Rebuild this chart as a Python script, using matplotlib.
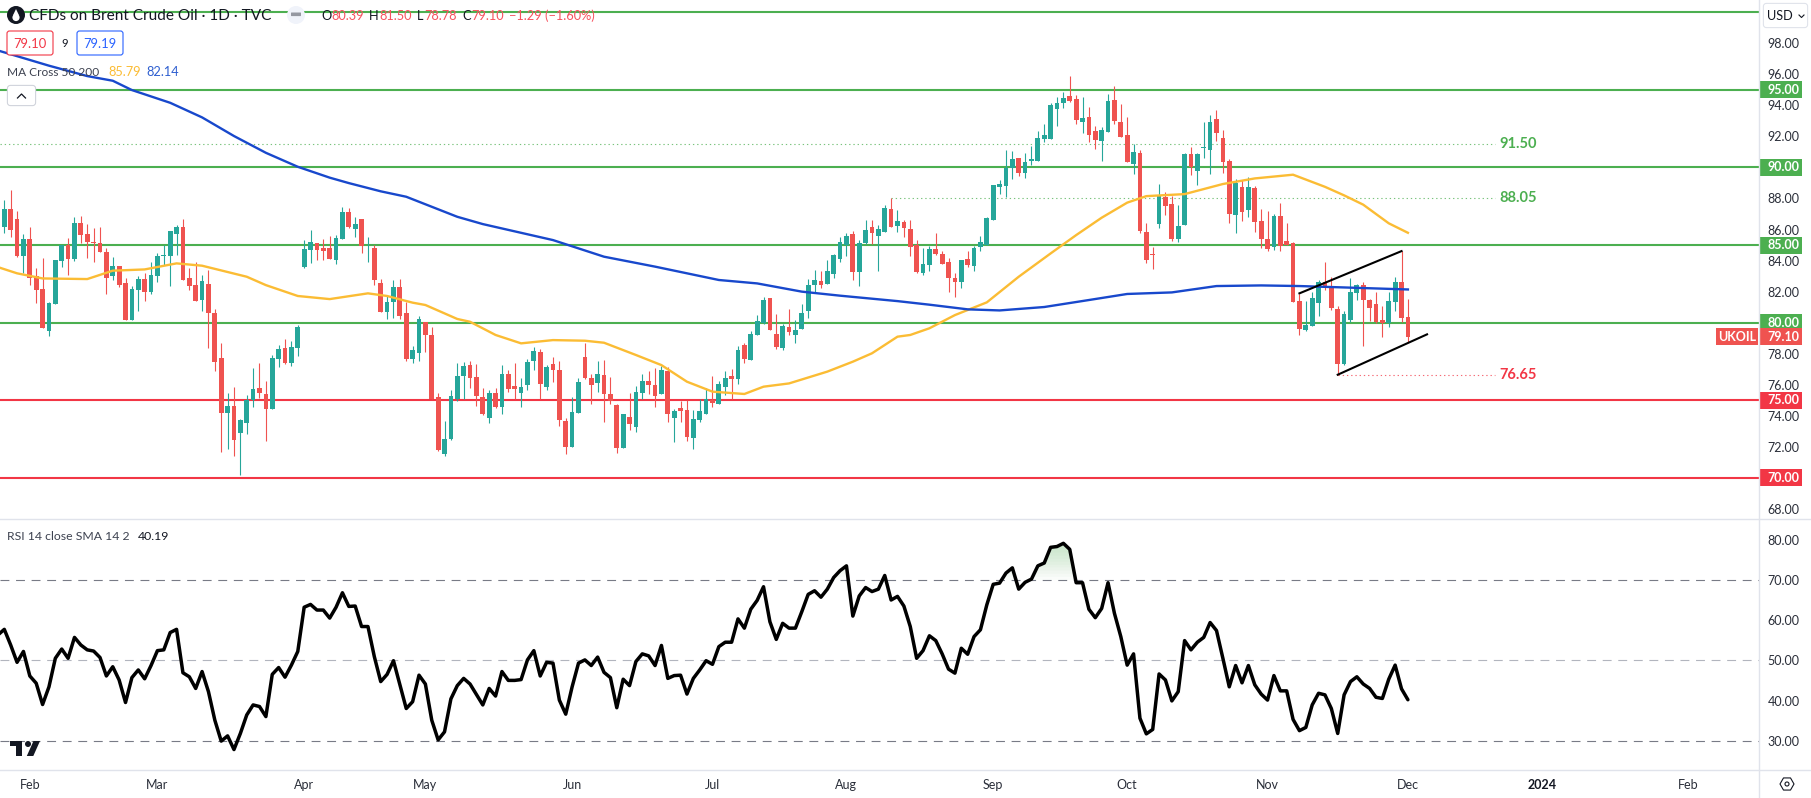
import numpy as np
import matplotlib
matplotlib.use("Agg")
import matplotlib.pyplot as plt
from matplotlib.patches import Rectangle, FancyBboxPatch, Circle, Polygon, RegularPolygon
from matplotlib.lines import Line2D
from matplotlib.transforms import blended_transform_factory as blend, Affine2D

plt.rcParams['font.family'] = ['Lato', 'DejaVu Sans']

opens = [86.18,87.32,86.67,84.29,85.39,83.00,82.17,79.46,81.20,83.97,
85.00,84.10,86.42,85.71,85.19,85.13,84.55,83.00,83.65,82.55,
80.17,82.10,82.81,81.97,83.00,84.31,84.29,85.71,86.16,82.88,
82.42,81.46,82.49,80.62,77.73,74.18,74.63,72.90,73.54,75.02,
75.79,75.41,74.44,77.66,78.37,77.40,78.37,83.58,84.68,85.13,
84.81,84.81,84.03,85.39,87.12,86.03,86.67,84.98,84.81,82.55,
80.69,81.33,82.30,80.62,77.66,78.05,80.04,79.21,75.21,71.54,
72.51,75.09,76.57,77.27,76.50,75.21,73.86,75.47,74.57,76.70,
75.92,75.47,75.99,77.53,78.11,75.86,77.34,76.95,73.67,72.00,
74.18,77.79,76.44,76.12,76.63,75.41,74.70,71.93,73.93,73.28,
75.47,76.24,75.99,75.41,76.89,73.86,74.51,74.38,72.57,73.73,
74.12,75.02,74.76,75.86,76.57,76.37,78.56,77.60,79.21,79.98,
81.59,79.27,78.37,79.72,79.21,79.59,80.75,82.42,82.68,82.49,
83.13,84.10,85.00,85.71,83.26,85.13,86.16,85.58,85.84,87.32,
86.22,86.48,86.03,85.00,83.20,83.71,84.74,84.42,83.91,82.88,
82.62,84.10,83.65,84.87,85.00,86.61,88.73,88.80,89.96,90.60,
89.64,90.41,90.41,91.82,91.82,93.76,94.14,94.59,94.40,92.92,
93.24,92.34,91.70,92.28,94.34,92.92,92.08,90.21,90.92,85.84,
84.40,86.35,88.09,87.64,85.39,86.29,90.86,89.76,91.25,91.12,
93.11,91.89,90.41,86.93,88.73,87.25,88.67,86.55,85.39,84.87,
86.87,85.26,85.13,81.39,79.53,79.79,81.27,82.62,82.36,80.88,
77.34,80.17,81.93,82.42,81.46,81.20,80.17,79.96,81.35,82.62,80.39]

closes = [87.32,85.97,84.29,85.39,82.88,82.10,79.66,81.27,84.03,85.00,
84.10,86.42,85.64,85.19,85.13,84.55,82.88,83.65,82.42,80.17,
82.17,82.81,81.97,83.07,84.29,84.36,85.90,86.16,82.75,82.36,
81.39,82.68,80.62,77.47,74.18,74.63,72.45,73.73,75.02,75.73,
75.47,74.44,77.73,78.30,77.40,78.43,79.72,84.74,85.19,84.68,
84.61,84.10,85.45,87.12,86.16,86.35,84.94,85.02,82.75,80.69,
81.33,82.30,80.43,77.66,78.24,80.24,79.21,75.09,71.80,72.51,
75.28,76.57,77.21,76.44,75.28,74.12,75.47,74.57,76.70,75.73,
75.73,75.86,77.47,78.18,76.05,77.15,76.95,73.73,72.00,74.25,
76.18,76.44,75.99,76.70,75.41,74.96,71.93,74.12,73.48,75.54,
76.24,75.99,75.28,76.95,74.12,74.31,74.31,72.64,73.80,74.31,
75.09,74.83,76.05,76.44,76.37,78.24,77.66,79.27,80.11,81.46,
79.53,78.43,79.79,79.40,79.53,80.62,82.42,82.75,82.42,83.33,
84.36,85.19,85.58,83.26,85.13,85.97,85.77,86.03,87.38,86.16,
86.54,86.09,84.87,83.26,83.78,84.74,84.42,83.78,82.88,82.62,
84.03,83.71,84.81,85.19,86.74,88.86,88.93,89.96,90.54,89.64,
90.34,90.54,91.89,92.08,94.01,94.14,94.46,94.27,93.05,93.18,
92.08,91.76,92.40,94.27,92.98,91.95,90.34,90.99,85.90,84.03,
84.33,88.15,87.51,85.39,86.22,90.86,90.02,90.86,91.31,92.92,
92.21,90.34,87.00,88.99,87.12,88.73,86.48,85.39,84.74,86.87,
84.94,85.00,81.33,79.59,79.85,81.59,82.62,82.30,80.94,77.34,
80.56,81.97,82.42,81.46,80.94,80.06,79.96,81.39,82.62,80.28,79.10]

highs = [87.90,88.54,87.19,85.71,86.16,83.52,84.16,81.33,84.03,85.00,
85.45,86.80,86.87,86.35,86.09,86.16,84.81,84.23,83.65,82.88,
82.36,83.00,83.20,83.91,84.49,85.00,85.90,86.29,86.67,83.52,
83.91,83.07,83.39,80.88,78.69,75.47,75.86,73.80,75.34,77.08,
77.40,76.24,77.92,78.56,78.95,78.82,79.85,85.32,85.97,85.13,
85.39,85.58,85.64,87.45,87.38,86.80,86.67,85.52,85.00,82.81,
81.72,82.75,82.81,81.33,78.50,80.43,80.04,79.72,75.47,73.67,
75.67,77.40,77.47,77.53,77.34,75.79,75.67,75.79,77.27,76.95,
77.40,76.44,77.66,78.43,78.30,77.27,77.79,77.53,73.86,75.21,
76.44,78.69,76.70,77.53,77.60,76.50,74.76,74.12,75.47,75.92,
76.70,76.89,77.08,77.21,77.15,74.44,74.96,75.02,74.38,75.09,
75.79,76.57,76.24,76.89,77.02,78.50,78.69,79.46,80.49,81.65,
81.59,80.56,79.91,80.88,80.17,81.20,82.81,83.39,83.33,84.03,
84.42,85.52,85.77,85.90,85.32,86.61,86.61,86.29,87.58,88.03,
87.25,86.61,86.61,85.32,84.81,84.94,85.77,84.61,84.16,83.20,
84.03,84.61,84.94,85.58,86.80,88.86,89.18,91.12,91.05,90.60,
90.92,91.37,92.34,92.79,94.14,94.53,94.85,95.88,94.66,94.53,
93.88,92.66,92.60,94.72,95.24,94.08,93.24,91.50,91.12,86.42,
84.87,88.93,88.41,88.15,87.58,90.92,91.31,90.92,92.92,93.37,
93.69,92.40,90.54,89.25,89.18,89.38,88.80,87.32,87.19,87.00,
87.70,86.42,85.19,81.85,81.39,81.97,82.75,83.91,82.94,81.07,
80.75,82.88,82.49,82.62,81.52,81.97,81.07,81.97,82.94,84.61,81.50]

lows = [85.79,85.54,84.20,83.18,82.42,81.24,79.66,79.14,81.20,83.61,
83.07,83.97,85.13,84.16,83.91,84.55,81.85,82.75,82.32,80.17,
80.17,80.75,81.39,81.85,82.62,83.71,82.36,84.36,82.75,82.10,
81.39,80.75,78.37,76.89,71.67,71.87,71.42,70.19,72.83,74.57,
75.15,72.38,74.44,77.15,77.34,77.21,77.85,83.52,83.84,84.03,
84.03,84.10,83.78,85.39,86.09,85.52,84.49,83.91,82.42,80.69,
80.24,80.30,80.24,77.53,77.40,77.53,78.11,75.09,71.74,71.42,
72.45,74.96,75.09,75.79,74.63,74.06,73.54,74.51,74.12,75.54,
75.09,74.57,75.67,76.95,75.09,75.67,76.18,73.35,71.54,72.00,
74.18,76.37,74.76,75.54,73.60,74.76,71.61,71.93,73.09,72.96,
75.09,75.41,74.57,75.41,73.60,72.32,73.60,72.38,71.87,73.60,
74.12,74.57,74.76,75.34,75.09,76.05,77.40,77.60,79.21,79.91,
79.53,78.30,78.24,79.21,78.69,79.59,80.30,81.97,82.23,82.49,
82.88,83.91,84.29,82.75,82.36,85.06,85.06,83.33,85.84,86.16,
85.84,85.52,84.29,83.20,83.07,83.33,84.36,83.78,81.97,81.65,
82.23,83.58,83.33,84.61,85.00,86.61,88.28,88.09,89.25,89.44,
89.31,90.15,90.41,91.63,91.82,92.66,93.82,94.21,92.79,92.21,
91.63,91.18,90.41,92.28,92.79,91.95,90.34,89.57,85.77,83.84,
83.46,86.09,86.93,85.26,85.19,86.29,89.51,88.86,90.60,89.57,
91.70,89.64,86.42,85.77,86.55,86.80,85.84,84.81,84.61,84.68,
84.61,85.00,81.33,79.21,79.46,79.79,80.43,82.10,80.82,76.65,
77.27,80.04,81.46,78.50,80.11,80.00,79.08,79.72,80.75,80.04,78.78]

ma200_bar = [-1,7,13,17,20,26,31,36,41,46,51,54,59,63,71,75,86,94,102,112,118,125,131,140,145,151,156,163,170,176,183,190,197,203,210,220]
ma200_val = [97.53,96.55,95.88,95.58,94.98,94.16,93.22,92.02,90.94,90.04,89.34,88.99,88.46,88.11,86.82,86.35,85.32,84.25,83.61,82.75,82.53,82.00,81.74,81.39,81.16,80.86,80.79,81.01,81.46,81.85,81.95,82.36,82.40,82.36,82.27,82.14]

ma50_bar = [-1,2,6,13,17,22,27,31,38,41,46,51,57,60,64,66,71,73,77,81,86,91,94,99,103,107,111,116,119,123,129,133,136,140,142,145,149,154,159,164,168,172,176,179,185,191,196,202,207,210,213,217,220]
ma50_val = [83.58,83.18,82.85,82.81,83.35,83.43,83.82,83.67,82.96,82.42,81.72,81.52,81.89,81.72,81.29,81.14,80.24,80.06,79.21,78.67,78.88,78.84,78.71,77.92,77.27,76.20,75.56,75.41,75.88,76.09,76.85,77.49,78.03,79.10,79.21,79.64,80.49,81.31,82.96,84.46,85.64,86.76,87.73,88.15,88.28,88.93,89.29,89.53,88.75,88.20,87.60,86.40,85.79]

rsi = [56.3,57.7,53.8,49.5,52.2,46.1,44.3,39.0,43.4,50.5,52.8,50.5,55.7,53.8,52.6,52.3,50.7,46.1,48.4,45.1,39.5,
45.7,47.6,45.4,48.7,52.4,52.6,56.9,57.7,46.9,45.9,43.0,47.2,42.2,35.1,29.9,31.2,27.8,31.8,36.4,38.9,
38.5,36.0,46.5,48.2,45.8,48.8,52.2,63.2,63.9,62.5,62.5,60.5,63.2,66.8,63.4,63.5,58.4,58.4,50.9,44.7,
46.5,49.9,43.9,38.0,39.7,46.3,44.1,35.1,30.2,32.2,40.4,43.7,45.5,44.1,41.5,38.9,43.0,41.1,47.2,45.0,
45.0,45.2,50.1,52.4,46.1,49.5,49.3,40.1,36.6,43.4,49.3,50.1,48.7,50.8,47.0,45.7,38.2,45.3,43.7,49.7,
51.6,51.1,48.7,53.7,45.5,46.2,46.3,41.6,45.5,47.6,49.9,49.0,53.4,54.5,54.5,60.3,58.0,62.7,64.9,68.3,
59.6,55.2,59.2,58.0,58.0,62.1,66.4,67.3,65.7,67.7,70.6,72.3,73.5,61.0,66.0,68.1,67.1,67.7,71.1,65.0,
65.9,63.5,58.4,50.5,52.4,56.1,54.9,51.6,47.8,46.8,53.0,51.5,55.9,57.6,63.8,68.9,69.2,71.7,73.0,67.7,
69.4,70.2,73.5,74.2,78.1,78.3,79.1,77.6,69.3,69.3,62.7,60.6,62.9,69.3,61.7,55.9,48.8,51.6,35.6,31.7,
32.8,46.6,45.1,39.9,42.2,54.9,52.6,54.5,55.7,59.4,57.4,50.5,43.4,48.7,44.4,48.7,43.9,41.6,40.1,46.2,
42.4,42.4,35.3,32.5,33.3,38.9,41.8,41.4,38.0,31.8,41.4,44.7,45.9,44.1,43.0,40.8,40.5,45.3,48.8,42.9,40.19]

green_levels = [100, 95, 90, 85, 80]
red_levels = [75, 70]
price_ticks = [98, 96, 94, 92, 88, 86, 84, 82, 78, 76, 74, 72, 68]
rsi_ticks = [30, 40, 50, 60, 70, 80]
month_bars = [4, 24, 47, 66, 89, 111, 132, 155, 176, 198, 220, 241, 264]
month_labels = ['Feb', 'Mar', 'Apr', 'May', 'Jun', 'Jul', 'Aug', 'Sep', 'Oct', 'Nov', 'Dec', '2024', 'Feb']
upper_trend_bar, upper_trend_val = [203, 219], [81.89, 84.61]
lower_trend_bar, lower_trend_val = [209, 223], [76.65, 79.25]

W, H = 1811, 798
AXR = 1759
GREEN = '#4caf50'; RED = '#f23645'; UP = '#26a69a'; DOWN = '#ef5350'
TXT = '#131722'; YEL = '#fbbc34'; BLUE = '#1848cc'; GRID = '#e0e3eb'
FS = 9.0

fig = plt.figure(figsize=(W/100, H/100), dpi=100, facecolor='white')

def fx(x): return x / W
def fy(y): return 1 - y / H

ax = fig.add_axes([0, fy(518.5), AXR/W, 518.5/H])
ar = fig.add_axes([0, fy(770), AXR/W, (770-518.5)/H])

XMIN = (0 - 4.3) / 6.38
XMAX = (AXR - 4.3) / 6.38
for a in (ax, ar):
    a.set_xlim(XMIN, XMAX)
    for s in a.spines.values():
        s.set_visible(False)
    a.yaxis.tick_right()
    a.tick_params(axis='y', length=0, pad=6.2, labelsize=FS, labelcolor='#2a2e39')
ax.set_ylim(80 - (518.5 - 322.7) / 15.53, 80 + 322.7 / 15.53)
ar.set_ylim(50 - (770 - 660.3) / 4.02, 50 + (660.3 - 518.5) / 4.02)

# candles
idx = np.arange(len(opens))
o, h, l, c = map(np.array, (opens, highs, lows, closes))
cols = np.where(c >= o, UP, DOWN)
ax.vlines(idx, l, h, colors=cols, lw=0.8, zorder=3)
ax.bar(idx, np.abs(c - o), bottom=np.minimum(o, c), width=0.74, color=cols, lw=0, zorder=3)

# levels
for v in green_levels:
    ax.axhline(v, color=GREEN, lw=1.5, zorder=2)
for v in red_levels:
    ax.axhline(v, color=RED, lw=1.5, zorder=2)

# moving averages
ax.plot(ma50_bar, ma50_val, color=YEL, lw=1.7, zorder=4, solid_joinstyle='round')
ax.plot(ma200_bar, ma200_val, color=BLUE, lw=1.7, zorder=4, solid_joinstyle='round')

# trendlines
ax.plot(upper_trend_bar, upper_trend_val, color='black', lw=1.5, zorder=5)
ax.plot(lower_trend_bar, lower_trend_val, color='black', lw=1.5, zorder=5)

# dotted levels
LBL = (1499.6 - 4.3) / 6.38
LEND = (1495 - 4.3) / 6.38
ds = (0, (1.2, 2.6))
ax.plot([XMIN, LEND], [91.5, 91.5], color=GREEN, lw=0.8, ls=ds, alpha=.75, zorder=2)
ax.plot([139, LEND], [88.05, 88.05], color=GREEN, lw=0.8, ls=ds, alpha=.75, zorder=2)
ax.plot([209, LEND], [76.65, 76.65], color=RED, lw=0.8, ls=ds, alpha=.75, zorder=2)
for v, col in ((91.5, GREEN), (88.05, GREEN), (76.65, RED)):
    ax.text(LBL, v, f'{v:.2f}', color=col, fontsize=10.5, fontweight='bold', va='center', ha='left')

# price axis
ax.set_xticks([])
ax.set_yticks(price_ticks)
ax.set_yticklabels([f'{v:.2f}' for v in price_ticks])

def scale_box(a, v, fc, label, hpx=17):
    ylo, yhi = a.get_ylim()
    axh = a.get_position().height * H
    dh = hpx * (yhi - ylo) / axh
    tr = blend(a.transAxes, a.transData)
    a.add_patch(Rectangle((1.0, v - dh/2), 43/AXR, dh, transform=tr, fc=fc, ec='none', clip_on=False, zorder=6))
    a.text(1767/AXR, v, label, transform=tr, color='white', fontsize=FS, fontweight='bold',
           va='center', ha='left', clip_on=False, zorder=7)

for v in (95, 90, 85, 80):
    scale_box(ax, v, GREEN, f'{v:.2f}')
for v in (75, 70):
    scale_box(ax, v, RED, f'{v:.2f}')
scale_box(ax, 79.10, DOWN, '79.10')
tr = blend(ax.transAxes, ax.transData)
dh = 17 / 15.53
ax.add_patch(Rectangle((1716/AXR, 79.10 - dh/2), 42/AXR, dh, transform=tr, fc=DOWN, ec='none', clip_on=False, zorder=6))
ax.text(1737/AXR, 79.10, 'UKOIL', transform=tr, color='white', fontsize=FS, fontweight='bold',
        va='center', ha='center', zorder=7)

# RSI
rx = np.arange(-1, len(rsi) - 1)
ra = np.array(rsi)
for v, col in ((70, '#787b86'), (50, '#b2b5be'), (30, '#787b86')):
    ar.axhline(v, color=col, lw=0.8, ls=(0, (8, 6)), zorder=1)
for lev in np.linspace(70, 78.5, 12):
    ar.fill_between(rx, lev, ra, where=ra > lev, interpolate=True, color=GREEN, alpha=0.028, lw=0, zorder=1)
ar.plot(rx, ra, color='black', lw=2.5, zorder=3, solid_joinstyle='round', solid_capstyle='round')
ar.set_yticks(rsi_ticks)
ar.set_yticklabels([f'{v:.2f}' for v in rsi_ticks])
ar.set_xticks(month_bars)
ar.set_xticklabels(month_labels, fontsize=FS, color='#2a2e39')
ar.tick_params(axis='x', length=0, pad=6.5)
for t, m in zip(ar.get_xticklabels(), month_labels):
    if m == '2024':
        t.set_color(TXT); t.set_fontweight('bold')

# frame lines
for (x0, y0), (x1, y1) in (((AXR, 0), (AXR, H)), ((0, 518.5), (W, 518.5)), ((0, 770), (W, 770))):
    fig.add_artist(Line2D([fx(x0), fx(x1)], [fy(y0), fy(y1)], color=GRID, lw=1.0, transform=fig.transFigure, zorder=5))

def ftext(x, y, s, color=TXT, size=FS, **kw):
    return fig.text(fx(x), fy(y), s, color=color, fontsize=size, va='center', ha=kw.pop('ha', 'left'), zorder=8, **kw)

px = Affine2D().scale(1, -1).translate(0, H)  # pixel coordinates, y downward

def add(p):
    p.set_transform(px)
    fig.add_artist(p)
    p.set_zorder(7)
    return p

# header
add(Circle((16, 15), 9, fc='#131722', ec='none'))
add(Circle((16, 17.5), 3.6, fc='white', ec='none'))
add(Polygon([(16, 9), (12.9, 15.5), (19.1, 15.5)], closed=True, fc='white', ec='none'))
ftext(29, 15.5, 'CFDs on Brent Crude Oil · 1D · TVC', size=11.1)
add(Circle((296, 15), 9, fc='#f0f3fa', ec='none'))
add(FancyBboxPatch((291.5, 13), 9, 2.6, boxstyle='round,pad=0.5', fc='#9598a1', ec='none'))
VALRED = '#f7525f'
for xp, lab, xv, val in ((321, 'O', 331, '80.39'), (369, 'H', 379, '81.50'), (417, 'L', 424, '78.78'), (462, 'C', 471, '79.10')):
    ftext(xp, 15.5, lab, size=9.2)
    ftext(xv, 15.5, val, color=VALRED, size=9.2)
ftext(509, 15.5, '−1.29 (−1.60%)', color=VALRED, size=9.2)

add(FancyBboxPatch((8, 32), 44, 22, boxstyle='round,pad=1,rounding_size=2.5', fc='white', ec=RED, lw=0.8))
ftext(30, 43.5, '79.10', color=RED, size=9.4, ha='center')
ftext(64.5, 43.5, '9', size=8.2, ha='center')
add(FancyBboxPatch((78, 32), 44, 22, boxstyle='round,pad=1,rounding_size=2.5', fc='white', ec='#2962ff', lw=0.8))
ftext(100, 43.5, '79.19', color='#2962ff', size=9.4, ha='center')
ftext(7, 72, 'MA Cross 50 200', color='#3d4250', size=8.6)
ftext(108, 72, '85.79', color=YEL, size=9.2)
ftext(146, 72, '82.14', color='#2e5fd0', size=9.2)
add(FancyBboxPatch((8, 86), 27, 19, boxstyle='round,pad=0.6,rounding_size=3', fc='white', ec='#d1d4dc', lw=0.8))
fig.add_artist(Line2D([17.5, 21.5, 25.5], [98, 94, 98], color=TXT, lw=0.9, transform=px, zorder=8))

ftext(7, 536, 'RSI 14 close SMA 14 2', color='#3d4250', size=8.8)
ftext(138, 536, '40.19', color=TXT, size=8.8)

# USD selector
add(FancyBboxPatch((1764, 4), 43, 23, boxstyle='round,pad=0.6,rounding_size=3', fc='white', ec=GRID, lw=0.8))
ftext(1767, 15.5, 'USD', size=9.2)
fig.add_artist(Line2D([1799, 1801.5, 1804], [15, 17.5, 15], color=TXT, lw=0.8, transform=px, zorder=8))

# gear icon
add(RegularPolygon((1787, 784), 6, radius=7, orientation=np.pi/6, fc='white', ec='#131722', lw=0.8))
add(Circle((1787, 784), 2, fc='white', ec='#131722', lw=0.8))

# TradingView mark
LOGO = '#131722'
add(Polygon([(10, 741), (22, 741), (22, 756), (16, 756), (16, 746), (10, 746)], closed=True, fc=LOGO, ec='none'))
add(Circle((28, 744), 3, fc=LOGO, ec='none'))
add(Polygon([(33.5, 741), (40, 741), (33.3, 756), (26.8, 756)], closed=True, fc=LOGO, ec='none'))

fig.savefig('out.png', dpi=100, facecolor='white')
